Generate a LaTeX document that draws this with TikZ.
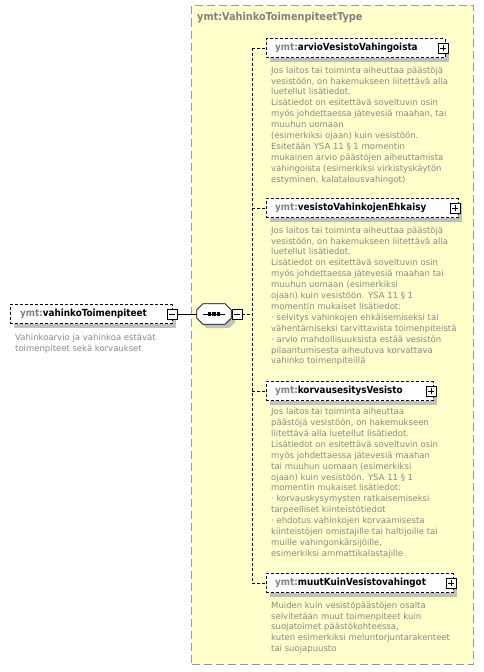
\documentclass[tikz,border=0pt]{standalone}
\usepackage{fontspec}
\setmainfont{DejaVu Sans Condensed}
\newfontfamily\descfont{DejaVu Sans}
\usetikzlibrary{shadows}
\definecolor{typefill}{HTML}{FFFFCC}
\definecolor{typeborder}{HTML}{999999}
\definecolor{shadowgray}{HTML}{C0C0C0}
\definecolor{desccolor}{HTML}{888888}
\definecolor{prefix}{HTML}{808080}
\tikzset{
  typebox/.style={draw=typeborder, fill=typefill, dash pattern=on 8pt off 4pt, line width=1pt},
  elbox/.style={draw=black, fill=white, dash pattern=on 3pt off 2pt, line width=0.8pt, minimum height=19pt, inner sep=0pt, anchor=west,
    drop shadow={shadow xshift=4pt, shadow yshift=-4pt, fill=shadowgray, opacity=1}},
  pmbox/.style={draw=black, fill=white, solid, line width=0.7pt, minimum size=10pt, inner sep=0pt},
  minusbox/.style={pmbox, path picture={\draw[line width=0.7pt] ([xshift=2pt]path picture bounding box.west) -- ([xshift=-2pt]path picture bounding box.east);}},
  plusbox/.style={pmbox, path picture={\draw[line width=0.7pt] ([xshift=2pt]path picture bounding box.west) -- ([xshift=-2pt]path picture bounding box.east);
      \draw[line width=0.7pt] ([yshift=-2pt]path picture bounding box.north) -- ([yshift=2pt]path picture bounding box.south);}},
  elname/.style={font=\fontsize{9.8}{12}\selectfont\bfseries, anchor=west, inner sep=0pt},
  titletext/.style={font=\fontsize{10.8}{12}\selectfont\bfseries, text=prefix, anchor=west, inner sep=0pt},
  desc/.style={font=\descfont\fontsize{8.5}{10.9}\selectfont, text=desccolor, align=left, anchor=north west, inner sep=0pt},
  seqbox/.style={minimum width=34pt, minimum height=20pt, inner sep=0pt},
  octline/.style={draw=black, fill=white, line width=0.8pt},
  conn/.style={draw=black, line width=0.8pt},
  dconn/.style={draw=black, line width=0.8pt, dash pattern=on 3pt off 2pt},
}
\newcommand{\pfx}{\textcolor{prefix}{ymt:}}
\newcommand{\octpath}[1]{([xshift=6pt]#1.north west) -- ([xshift=-6pt]#1.north east) -- ([yshift=-6pt]#1.north east) -- ([yshift=6pt]#1.south east) -- ([xshift=-6pt]#1.south east) -- ([xshift=6pt]#1.south west) -- ([yshift=6pt]#1.south west) -- ([yshift=-6pt]#1.north west) -- cycle}
\begin{document}
\begin{tikzpicture}[x=1pt,y=-1pt]
\useasboundingbox (0,0) rectangle (483,672);
% type box
\node[typebox, minimum width=282pt, minimum height=659pt, anchor=north west, inner sep=0pt] (type) at (191,5) {};
\node[titletext] (title) at (197,18) {ymt:VahinkoToimenpiteetType};
% root element
\node[elbox, minimum width=162pt] (root) at (10,314) {};
\node[elname] (rootname) at (20,314) {\pfx vahinkoToimenpiteet};
\node[minusbox] (rootm) at (172,314) {};
\node[desc] (rootdesc) at (15,334) {Vahinkoarvio ja vahinkoa estävät\\toimenpiteet sekä korvaukset};
% sequence
\node[seqbox] (seq) at (214,314) {};
\node[seqbox] (seqsh) at (218,318) {};
\fill[shadowgray] \octpath{seqsh};
\draw[octline] \octpath{seq};
\draw[line width=0.8pt] ([xshift=6pt]seq.west) -- ([xshift=-6pt]seq.east);
\foreach \dx [count=\i] in {-4.5,0,4.5}{
  \node[fill=black, minimum size=3.5pt, inner sep=0pt] (dot\i) at (214+\dx,314) {};
}
\node[minusbox] (seqm) at (237,314) {};
\coordinate (vj) at (252,314);
% children
\node[elbox, minimum width=179pt] (c1) at (266,48) {};
\node[elname] (c1name) at (275,48) {\pfx arvioVesistoVahingoista};
\node[plusbox] (c1p) at (443,48) {};
\node[desc] (c1desc) at (271,66.5) {Jos laitos tai toiminta aiheuttaa päästöjä\\vesistöön, on hakemukseen liitettävä alla\\luetellut lisätiedot.\\Lisätiedot on esitettävä soveltuvin osin\\myös johdettaessa jätevesiä maahan, tai\\muuhun uomaan\\(esimerkiksi ojaan) kuin vesistöön.\\Esitetään YSA 11 § 1 momentin\\mukainen arvio päästöjen aiheuttamista\\vahingoista (esimerkiksi virkistyskäytön\\estyminen, kalatalousvahingot)};

\node[elbox, minimum width=192pt] (c2) at (266,208) {};
\node[elname] (c2name) at (275,208) {\pfx vesistoVahinkojenEhkaisy};
\node[plusbox] (c2p) at (455,208) {};
\node[desc] (c2desc) at (271,226.5) {Jos laitos tai toiminta aiheuttaa päästöjä\\vesistöön, on hakemukseen liitettävä alla\\luetellut lisätiedot.\\Lisätiedot on esitettävä soveltuvin osin\\myös johdettaessa jätevesiä maahan tai\\muuhun uomaan (esimerkiksi\\ojaan) kuin vesistöön. YSA 11 § 1\\momentin mukaiset lisätiedot:\\· selvitys vahinkojen ehkäisemiseksi tai\\vähentämiseksi tarvittavista toimenpiteistä\\· arvio mahdollisuuksista estää vesistön\\pilaantumisesta aiheutuva korvattava\\vahinko toimenpiteillä};

\node[elbox, minimum width=167pt] (c3) at (266,391) {};
\node[elname] (c3name) at (275,391) {\pfx korvausesitysVesisto};
\node[plusbox] (c3p) at (431,391) {};
\node[desc] (c3desc) at (271,408) {Jos laitos tai toiminta aiheuttaa\\päästöjä vesistöön, on hakemukseen\\liitettävä alla luetellut lisätiedot.\\Lisätiedot on esitettävä soveltuvin osin\\myös johdettaessa jätevesiä maahan\\tai muuhun uomaan (esimerkiksi\\ojaan) kuin vesistöön. YSA 11 § 1\\momentin mukaiset lisätiedot:\\· korvauskysymysten ratkaisemiseksi\\tarpeelliset kiinteistötiedot\\· ehdotus vahinkojen korvaamisesta\\kiinteistöjen omistajille tai haltijoille tai\\muille vahingonkärsijöille,\\esimerkiksi ammattikalastajille};

\node[elbox, minimum width=187pt] (c4) at (266,583) {};
\node[elname] (c4name) at (275,583) {\pfx muutKuinVesistovahingot};
\node[plusbox] (c4p) at (451,583) {};
\node[desc] (c4desc) at (271,601.5) {Muiden kuin vesistöpäästöjen osalta\\selvitetään muut toimenpiteet kuin\\suojatoimet päästökohteessa,\\kuten esimerkiksi meluntorjuntarakenteet\\tai suojapuusto};
% connectors
\draw[conn] (rootm.east) -- (seq.west);
\draw[dconn] (seqm.east) -- (vj);
\draw[dconn] (c1.west -| vj) -- (c4.west -| vj);
\foreach \c in {c1,c2,c3,c4}{
  \draw[dconn] (\c.west -| vj) -- (\c.west);
}
\end{tikzpicture}
\end{document}
